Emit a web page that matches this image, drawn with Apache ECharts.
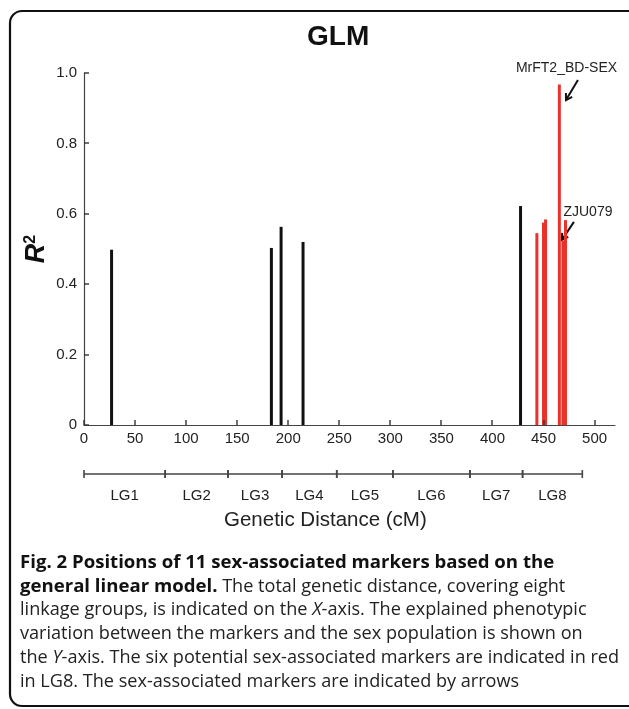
<!DOCTYPE html>
<html><head><meta charset="utf-8">
<script src="https://cdn.jsdelivr.net/npm/echarts@6/dist/echarts.min.js"></script>
<style>html,body{margin:0;padding:0;background:#fff}#c{width:629px;height:709px}</style>
</head><body><div id="c"></div>
<script>
// ---- data ----
const blackPos = [27, 183.5, 193, 214.5, 427.5];
const blackR2  = [0.498, 0.503, 0.563, 0.52, 0.622];
const redPos   = [443.5, 450, 452, 465.5, 469, 471.5];
const redR2    = [0.545, 0.575, 0.584, 0.967, 0.524, 0.582];
const xTicks   = [0, 50, 100, 150, 200, 250, 300, 350, 400, 450, 500];
const yTicks   = [0, 0.2, 0.4, 0.6, 0.8, 1.0];
const lgNames  = ['LG1','LG2','LG3','LG4','LG5','LG6','LG7','LG8'];
const lgBounds = [0, 79.5, 141, 194, 247.5, 302.5, 378, 429.5, 488];
const annotations = [
  {name: 'MrFT2_BD-SEX', text: [472.5, 1.014], from: [483.7, 0.980], to: [472, 0.923]},
  {name: 'ZJU079', text: [493.5, 0.605], from: [479.8, 0.577], to: [468, 0.526]}
];
const captionLines = [
  [['b','Fig. 2 Positions of 11 sex-associated markers based on the']],
  [['b','general linear model.'],['n',' The total genetic distance, covering eight']],
  [['n','linkage groups, is indicated on the '],['i','X'],['n','-axis. The explained phenotypic']],
  [['n','variation between the markers and the sex population is shown on']],
  [['n','the '],['i','Y'],['n','-axis. The six potential sex-associated markers are indicated in red']],
  [['n','in LG8. The sex-associated markers are indicated by arrows']]
];

// ---- build ----
const FONT = 'Liberation Sans, Arial, sans-serif';
const CAPFONT = 'Open Sans, sans-serif';
const segs = lgNames.map((n, i) => [lgBounds[i], lgBounds[i + 1], n]);

const chart = echarts.init(document.getElementById('c'));

const capGraphics = captionLines.map((line, li) => ({
  type: 'text', left: 20, top: 553 + li * 24,
  style: {
    rich: {
      b: {fontFamily: CAPFONT, fontWeight: 'bold', fontSize: 18.6, fill: '#111'},
      n: {fontFamily: CAPFONT, fontSize: 18.1, fill: '#222'},
      i: {fontFamily: CAPFONT, fontStyle: 'italic', fontSize: 18.1, fill: '#222'}
    },
    text: line.map(s => '{' + s[0] + '|' + s[1] + '}').join('')
  }
}));

const tickStyle = {stroke: '#333', lineWidth: 1.4};

chart.setOption({
  animation: false,
  backgroundColor: '#fff',
  title: [
    {text: 'GLM', top: 23, left: 307, padding: 0, textStyle: {fontFamily: FONT, fontWeight: 'bold', fontSize: 28, color: '#111'}},
    {text: 'Genetic Distance (cM)', left: 224, top: 510, padding: 0, textStyle: {fontFamily: FONT, fontWeight: 'normal', fontSize: 20.5, color: '#222'}}
  ],
  grid: [{left: 84, right: 14, top: 73, bottom: 284}, {left: 84, right: 14, top: 464, height: 20}],
  xAxis: [{
    type: 'value', min: 0, max: 520, gridIndex: 0,
    axisLine: {lineStyle: {color: '#444', width: 1.2}},
    axisTick: {show: false},
    axisLabel: {color: '#222', fontSize: 15, fontFamily: FONT, margin: 6, customValues: xTicks},
    splitLine: {show: false}
  }, {
    type: 'value', min: 0, max: 520, gridIndex: 1, show: false
  }],
  yAxis: [{
    type: 'value', min: 0, max: 1, gridIndex: 0,
    name: '{r|R}{s|2}', nameLocation: 'middle', nameGap: 33, nameRotate: 90, nameMoveOverlap: false,
    nameTextStyle: {rich: {
      r: {fontFamily: FONT, fontWeight: 'bold', fontStyle: 'italic', fontSize: 27, color: '#111'},
      s: {fontFamily: FONT, fontWeight: 'bold', fontSize: 16, color: '#111', verticalAlign: 'top', padding: [0,0,12,0]}
    }},
    axisLine: {show: true, lineStyle: {color: '#444', width: 1.2}},
    axisTick: {show: false},
    axisLabel: {color: '#222', fontSize: 15, fontFamily: FONT, margin: 7, customValues: yTicks,
      formatter: v => v === 0 ? '0' : v.toFixed(1)},
    splitLine: {show: false}
  }, {
    type: 'value', min: 0, max: 1, gridIndex: 1, show: false
  }],
  series: [{
    type: 'bar', xAxisIndex: 0, yAxisIndex: 0, barWidth: 3, barGap: '-100%',
    itemStyle: {color: '#111'},
    data: blackPos.map((p, i) => [p, blackR2[i]])
  }, {
    type: 'bar', xAxisIndex: 0, yAxisIndex: 0, barWidth: 3, barGap: '-100%',
    itemStyle: {color: '#e8322a'},
    data: redPos.map((p, i) => [p, redR2[i]])
  }, {
    // axis ticks, pointing inward (x ticks then y ticks)
    type: 'custom', xAxisIndex: 0, yAxisIndex: 0, clip: false, silent: true, z: 5,
    data: xTicks.map(v => [v, 0, 0]).concat(yTicks.map(v => [0, v, 1])),
    renderItem: (params, api) => {
      const p = api.coord([api.value(0), api.value(1)]);
      if (api.value(2) === 0) {
        const x = Math.round(p[0]);
        return {type: 'line', shape: {x1: x, y1: p[1], x2: x, y2: p[1] - 5}, style: tickStyle};
      }
      const y = Math.round(p[1]);
      return {type: 'line', shape: {x1: p[0], y1: y, x2: p[0] + 5, y2: y}, style: tickStyle};
    }
  }, {
    type: 'custom', xAxisIndex: 0, yAxisIndex: 0, clip: false, silent: true,
    data: annotations.map(a => [a.from[0], a.from[1], a.to[0], a.to[1], a.text[0], a.text[1]]),
    renderItem: (params, api) => {
      const f = api.coord([api.value(0), api.value(1)]);
      const t = api.coord([api.value(2), api.value(3)]);
      const p = api.coord([api.value(4), api.value(5)]);
      const ang = Math.atan2(f[1] - t[1], f[0] - t[0]);
      const L = 7, spread = 0.55;
      const h1 = [t[0] + L * Math.cos(ang + spread), t[1] + L * Math.sin(ang + spread)];
      const h2 = [t[0] + L * Math.cos(ang - spread), t[1] + L * Math.sin(ang - spread)];
      const st = {stroke: '#111', lineWidth: 2, fill: 'none'};
      return {type: 'group', children: [
        {type: 'line', shape: {x1: f[0], y1: f[1], x2: t[0], y2: t[1]}, style: st},
        {type: 'polyline', shape: {points: [h1, t, h2]}, style: st},
        {type: 'text', style: {text: annotations[params.dataIndex].name, x: p[0], y: p[1],
          align: 'center', verticalAlign: 'middle', fontSize: 14, fontFamily: FONT, fill: '#222'}}
      ]};
    }
  }, {
    type: 'custom', xAxisIndex: 1, yAxisIndex: 1, clip: false, silent: true,
    data: segs.map(s => [s[0], s[1]]),
    renderItem: (params, api) => {
      const a = api.coord([api.value(0), 0.5]);
      const b = api.coord([api.value(1), 0.5]);
      const st = {stroke: '#444', lineWidth: 1.6};
      return {type: 'group', children: [
        {type: 'line', shape: {x1: a[0], y1: a[1], x2: b[0], y2: b[1]}, style: st},
        {type: 'line', shape: {x1: a[0], y1: a[1] - 4, x2: a[0], y2: a[1] + 4}, style: st},
        {type: 'line', shape: {x1: b[0], y1: b[1] - 4, x2: b[0], y2: b[1] + 4}, style: st},
        {type: 'text', style: {text: segs[params.dataIndex][2], x: (a[0] + b[0]) / 2, y: a[1] + 22,
          align: 'center', verticalAlign: 'middle', fontSize: 15, fontFamily: FONT, fill: '#222'}}
      ]};
    }
  }],
  graphic: [
    {type: 'rect', shape: {x: 10, y: 11, width: 640, height: 695, r: 12},
      style: {fill: 'none', stroke: '#111', lineWidth: 2.2}}
  ].concat(capGraphics)
});
</script></body></html>
